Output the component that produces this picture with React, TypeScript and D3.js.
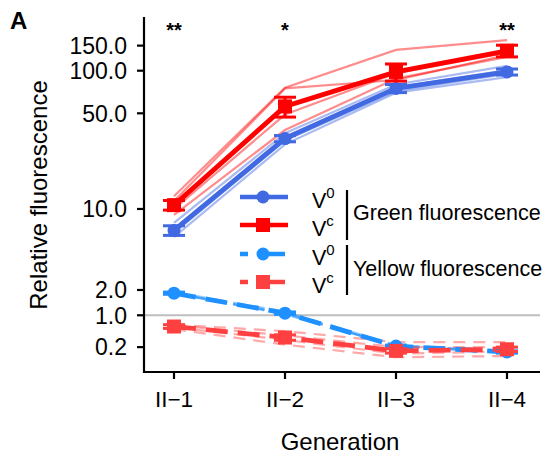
import React from 'react';
import * as d3 from 'd3';

const generations = ['II\u22121', 'II\u22122', 'II\u22123', 'II\u22124'];
const yTicks = [0.2, 1, 2, 10, 50, 100, 150];
const yTickLabels = ['0.2', '1.0', '2.0', '10.0', '50.0', '100.0', '150.0'];
const significance = ['**', '*', '', '**'];

const greenV0Mean = [6.8, 33, 75, 98];
const greenV0Err = [0.6, 1.7, 4.9, 4.8];
const greenVcMean = [10.7, 56, 98, 138];
const greenVcErr = [0.9, 9, 13.5, 13];
const yellowV0Mean = [1.85, 1.07, 0.22, 0.11];
const yellowV0Err = [0.05, 0.04, 0.02, 0.02];
const yellowVcMean = [0.67, 0.4, 0.13, 0.16];
const yellowVcErr = [0.05, 0.06, 0.04, 0.04];

const greenV0Reps = [
  [7.8, 36, 80, 108],
  [7.0, 34, 76, 101],
  [6.5, 32, 72, 95],
  [6.0, 30, 70, 90],
];
const greenVcReps = [
  [12.5, 76, 140, 164],
  [11.5, 75, 86, 129],
  [10, 49, 96, 134],
  [9, 38, 88, 125],
];
const yellowV0Reps = [
  [1.9, 1.12, 0.24, 0.12],
  [1.85, 1.05, 0.22, 0.1],
  [1.82, 1.08, 0.21, 0.11],
  [1.87, 1.03, 0.23, 0.12],
];
const yellowVcReps = [
  [0.72, 0.55, 0.3, 0.3],
  [0.7, 0.45, 0.2, 0.2],
  [0.65, 0.35, 0.08, 0.12],
  [0.6, 0.25, 0.02, 0.04],
];

const COL_GV0 = '#4169E1';
const COL_GVC = '#FF0000';
const COL_YV0 = '#1E90FF';
const COL_YVC = '#FF4040';
const FONT = "'Liberation Sans', Arial, Helvetica, sans-serif";

const x = d3.scalePoint<string>().domain(generations).range([174, 507]);
const y = d3.scaleSymlog().constant(1).domain([0, 100]).range([358.5, 70.7]);
const line = d3
  .line<number>()
  .x((_, i) => x(generations[i]) as number)
  .y((d) => y(d));

type Series = {
  mean: number[];
  err: number[];
  reps: number[][];
  color: string;
  dashed: boolean;
  shape: 'circle' | 'square';
};

const series: Series[] = [
  { mean: greenV0Mean, err: greenV0Err, reps: greenV0Reps, color: COL_GV0, dashed: false, shape: 'circle' },
  { mean: greenVcMean, err: greenVcErr, reps: greenVcReps, color: COL_GVC, dashed: false, shape: 'square' },
  { mean: yellowV0Mean, err: yellowV0Err, reps: yellowV0Reps, color: COL_YV0, dashed: true, shape: 'circle' },
  { mean: yellowVcMean, err: yellowVcErr, reps: yellowVcReps, color: COL_YVC, dashed: true, shape: 'square' },
];

function Marker({ cx, cy, color, shape }: { cx: number; cy: number; color: string; shape: string }) {
  if (shape === 'circle') return <circle cx={cx} cy={cy} r={6.5} fill={color} />;
  return <rect x={cx - 7} y={cy - 7} width={14} height={14} fill={color} />;
}

export default function App() {
  const axisLeft = 144;
  const axisBottom = 372;
  const axisTop = 17;
  const axisRight = 540;
  const legendRows = [
    { y: 197, color: COL_GV0, dashed: false, shape: 'circle', sup: '0' },
    { y: 225, color: COL_GVC, dashed: false, shape: 'square', sup: 'c' },
    { y: 254, color: COL_YV0, dashed: true, shape: 'circle', sup: '0' },
    { y: 282, color: COL_YVC, dashed: true, shape: 'square', sup: 'c' },
  ];
  return (
    <svg width={543} height={455} style={{ position: 'absolute', left: 0, top: 0 }} fontFamily={FONT}>
      <rect width={543} height={455} fill="#fff" />
      <text x={10} y={29} fontSize={24} fontWeight="bold">A</text>
      {/* reference line at 1 */}
      <line x1={axisLeft} x2={axisRight} y1={y(1)} y2={y(1)} stroke="#bebebe" strokeWidth={2} />
      {/* replicate lines */}
      {series.map((s, si) =>
        s.reps.map((r, ri) => (
          <path
            key={`r${si}-${ri}`}
            d={line(r) as string}
            fill="none"
            stroke={s.color}
            strokeOpacity={0.45}
            strokeWidth={2.2}
            strokeDasharray={s.dashed ? '12 8' : undefined}
          />
        ))
      )}
      {/* mean lines */}
      {series.map((s, si) => (
        <path
          key={`m${si}`}
          d={line(s.mean) as string}
          fill="none"
          stroke={s.color}
          strokeWidth={4.8}
          strokeDasharray={s.dashed ? '22 10' : undefined}
        />
      ))}
      {/* error bars and markers */}
      {series.map((s, si) =>
        s.mean.map((m, i) => {
          const cx = x(generations[i]) as number;
          const y1 = y(m + s.err[i]);
          const y0 = y(m - s.err[i]);
          return (
            <g key={`e${si}-${i}`}>
              <line x1={cx} x2={cx} y1={y0} y2={y1} stroke={s.color} strokeWidth={3} />
              <line x1={cx - 11} x2={cx + 11} y1={y0} y2={y0} stroke={s.color} strokeWidth={3} />
              <line x1={cx - 11} x2={cx + 11} y1={y1} y2={y1} stroke={s.color} strokeWidth={3} />
              <Marker cx={cx} cy={y(m)} color={s.color} shape={s.shape} />
            </g>
          );
        })
      )}
      {/* significance */}
      {significance.map((t, i) => (
        <text key={`s${i}`} x={x(generations[i]) as number} y={37} fontSize={20} fontWeight="bold" textAnchor="middle">
          {t}
        </text>
      ))}
      {/* axes */}
      <line x1={axisLeft} x2={axisLeft} y1={axisTop} y2={axisBottom + 1} stroke="#000" strokeWidth={2.2} />
      <line x1={axisLeft - 1} x2={axisRight} y1={axisBottom} y2={axisBottom} stroke="#000" strokeWidth={2.2} />
      {yTicks.map((t, i) => (
        <g key={`yt${i}`}>
          <line x1={axisLeft - 7} x2={axisLeft} y1={y(t)} y2={y(t)} stroke="#000" strokeWidth={2.2} />
          <text x={axisLeft - 17} y={y(t)} dy="0.36em" fontSize={23} textAnchor="end">
            {yTickLabels[i]}
          </text>
        </g>
      ))}
      {generations.map((g) => (
        <g key={g}>
          <line x1={x(g) as number} x2={x(g) as number} y1={axisBottom} y2={axisBottom + 7} stroke="#000" strokeWidth={2.2} />
          <text x={x(g) as number} y={407} fontSize={22.5} textAnchor="middle">
            {g}
          </text>
        </g>
      ))}
      <text x={340} y={450} fontSize={24} textAnchor="middle">Generation</text>
      <text transform="translate(47,195) rotate(-90)" fontSize={24} textAnchor="middle">Relative fluorescence</text>
      {/* legend */}
      {legendRows.map((r, i) => (
        <g key={`l${i}`}>
          {r.dashed ? (
            <>
              <line x1={240} x2={248} y1={r.y} y2={r.y} stroke={r.color} strokeWidth={4.5} />
              <line x1={257} x2={285} y1={r.y} y2={r.y} stroke={r.color} strokeWidth={4.5} />
            </>
          ) : (
            <line x1={240} x2={288} y1={r.y} y2={r.y} stroke={r.color} strokeWidth={4.5} />
          )}
          <Marker cx={263} cy={r.y} color={r.color} shape={r.shape} />
          <text x={312} y={r.y + 11} fontSize={21.5}>
            V<tspan dy={-10} fontSize={15}>{r.sup}</tspan>
          </text>
        </g>
      ))}
      <line x1={347} x2={347} y1={190} y2={240} stroke="#000" strokeWidth={2.2} />
      <line x1={347} x2={347} y1={245} y2={295} stroke="#000" strokeWidth={2.2} />
      <text x={353} y={220} fontSize={21.5}>Green fluorescence</text>
      <text x={353} y={276} fontSize={21.5}>Yellow fluorescence</text>
    </svg>
  );
}
